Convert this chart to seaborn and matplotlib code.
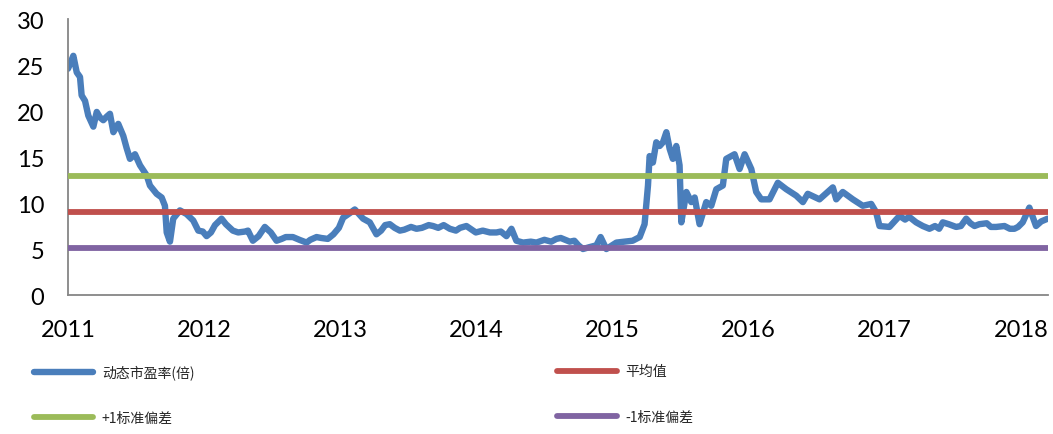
import matplotlib
matplotlib.use("Agg")
import matplotlib.pyplot as plt
import pandas as pd
import seaborn as sns

# dynamic P/E (x in years since 2011-01-01)
year_offset = [
    0.000, 0.020, 0.039, 0.064, 0.088, 0.100, 0.125, 0.149, 0.186, 0.211,
    0.235, 0.259, 0.285, 0.308, 0.333, 0.369, 0.406, 0.430, 0.455, 0.492,
    0.529, 0.578, 0.602, 0.651, 0.688, 0.712, 0.725, 0.749, 0.773, 0.822,
    0.871, 0.920, 0.957, 0.990, 1.018, 1.050, 1.080, 1.128, 1.160, 1.211,
    1.250, 1.300, 1.322, 1.358, 1.400, 1.446, 1.490, 1.532, 1.570, 1.600,
    1.652, 1.700, 1.753, 1.780, 1.826, 1.860, 1.909, 1.950, 1.990, 2.021,
    2.070, 2.107, 2.168, 2.217, 2.266, 2.300, 2.330, 2.364, 2.400, 2.438,
    2.470, 2.520, 2.560, 2.600, 2.650, 2.682, 2.720, 2.760, 2.805, 2.850,
    2.880, 2.927, 2.996, 3.047, 3.100, 3.148, 3.180, 3.221, 3.258, 3.294,
    3.343, 3.400, 3.441, 3.500, 3.550, 3.588, 3.620, 3.686, 3.720, 3.750,
    3.783, 3.830, 3.882, 3.913, 3.955, 4.029, 4.148, 4.200, 4.236, 4.261,
    4.273, 4.297, 4.322, 4.347, 4.371, 4.396, 4.420, 4.444, 4.469, 4.493,
    4.506, 4.543, 4.579, 4.604, 4.640, 4.689, 4.726, 4.763, 4.811, 4.836,
    4.897, 4.934, 4.971, 5.020, 5.056, 5.093, 5.154, 5.215, 5.277, 5.350,
    5.399, 5.435, 5.521, 5.619, 5.644, 5.692, 5.766, 5.839, 5.901, 5.937,
    5.962, 6.035, 6.109, 6.150, 6.180, 6.231, 6.280, 6.329, 6.370, 6.400,
    6.427, 6.470, 6.525, 6.560, 6.599, 6.630, 6.660, 6.696, 6.750, 6.780,
    6.819, 6.880, 6.920, 6.953, 6.980, 7.014, 7.063, 7.112, 7.150, 7.198,
]
pe_ratio = [
    24.6, 25.3, 26.0, 24.2, 23.7, 21.7, 21.1, 19.5, 18.3, 19.9,
    19.3, 19.0, 19.4, 19.7, 17.7, 18.6, 17.3, 16.0, 14.8, 15.3,
    14.1, 13.0, 11.9, 11.0, 10.6, 9.7, 6.8, 5.8, 8.3, 9.2,
    8.8, 8.1, 7.0, 6.9, 6.4, 6.8, 7.6, 8.3, 7.7, 7.0,
    6.8, 6.9, 7.0, 5.9, 6.4, 7.4, 6.8, 5.9, 6.1, 6.3,
    6.3, 6.0, 5.7, 6.0, 6.3, 6.2, 6.1, 6.6, 7.3, 8.4,
    8.9, 9.3, 8.3, 7.9, 6.6, 7.0, 7.6, 7.7, 7.3, 7.0,
    7.1, 7.4, 7.2, 7.3, 7.6, 7.5, 7.3, 7.6, 7.2, 7.0,
    7.3, 7.5, 6.8, 7.0, 6.8, 6.8, 6.9, 6.4, 7.2, 5.9,
    5.7, 5.8, 5.7, 6.0, 5.8, 6.1, 6.2, 5.8, 5.9, 5.4,
    5.0, 5.2, 5.4, 6.3, 5.0, 5.7, 5.9, 6.3, 7.7, 11.9,
    15.1, 14.4, 16.6, 16.2, 16.6, 17.7, 15.9, 14.8, 16.2, 14.1,
    7.9, 11.2, 10.1, 10.6, 7.7, 10.1, 9.7, 11.5, 11.9, 14.8,
    15.3, 13.7, 15.3, 13.7, 11.2, 10.4, 10.4, 12.2, 11.5, 10.8,
    10.1, 11.0, 10.4, 11.7, 10.4, 11.2, 10.4, 9.7, 9.9, 9.0,
    7.5, 7.4, 8.6, 8.2, 8.5, 7.9, 7.5, 7.2, 7.5, 7.2,
    7.9, 7.7, 7.4, 7.5, 8.3, 7.8, 7.5, 7.7, 7.8, 7.4,
    7.4, 7.5, 7.2, 7.2, 7.4, 7.9, 9.5, 7.5, 8.0, 8.3,
]
mean_pe = 9.0
plus_1sd = 12.9
minus_1sd = 5.1

start_year = 2011
year_ticks = [2011, 2012, 2013, 2014, 2015, 2016, 2017, 2018]
y_ticks = [0, 5, 10, 15, 20, 25, 30]
series_labels = ['动态市盈率(倍)', '平均值', '+1标准偏差', '-1标准偏差']

colors = {'pe': '#4A7EBB', 'mean': '#C0504D', 'plus': '#9BBB59', 'minus': '#8064A2'}

sns.set_style("white")
plt.rcParams['font.family'] = ['Lato', 'Noto Sans CJK SC', 'DejaVu Sans']

df = pd.DataFrame({'year': [start_year + v for v in year_offset], 'pe': pe_ratio})

fig = plt.figure(figsize=(10.53, 4.35), dpi=100)
ax = fig.add_axes([0.0646, 0.3195, 0.9304, 0.6345])

sns.lineplot(data=df, x='year', y='pe', ax=ax, color=colors['pe'], linewidth=4.6,
             label=series_labels[0], legend=False, zorder=2)
h_pe = ax.get_lines()[0]
h_pe.set_solid_joinstyle('round')
h_mean = ax.axhline(mean_pe, color=colors['mean'], linewidth=4.2, label=series_labels[1], zorder=3)
h_plus = ax.axhline(plus_1sd, color=colors['plus'], linewidth=4.2, label=series_labels[2], zorder=3)
h_minus = ax.axhline(minus_1sd, color=colors['minus'], linewidth=4.2, label=series_labels[3], zorder=3)

ax.set_xlim(start_year, start_year + 7.198)
ax.set_ylim(0, 30)
ax.set_xticks(year_ticks)
ax.set_xticklabels([str(y) for y in year_ticks])
ax.set_yticks(y_ticks)
ax.set_xlabel('')
ax.set_ylabel('')

for side in ['top', 'right']:
    ax.spines[side].set_visible(False)
for side in ['left', 'bottom']:
    ax.spines[side].set_color('#868686')
    ax.spines[side].set_linewidth(1.3)

ax.tick_params(axis='x', direction='in', length=6, width=1.3, color='#868686',
               pad=17, labelsize=17, labelcolor='black')
ax.tick_params(axis='y', length=0, pad=17, labelsize=17, labelcolor='black')

leg_kw = dict(frameon=False, handlelength=4.3, handletextpad=0.6,
              labelspacing=2.3, borderpad=0, borderaxespad=0, loc='upper left',
              prop={'family': ['Noto Sans CJK SC', 'DejaVu Sans'], 'size': 10})
fig.legend(handles=[h_pe, h_plus], labels=[series_labels[0], series_labels[2]],
           bbox_to_anchor=(0.032, 0.160), **leg_kw)
fig.legend(handles=[h_mean, h_minus], labels=[series_labels[1], series_labels[3]],
           bbox_to_anchor=(0.529, 0.160), **leg_kw)

fig.savefig('out.png', dpi=100)
